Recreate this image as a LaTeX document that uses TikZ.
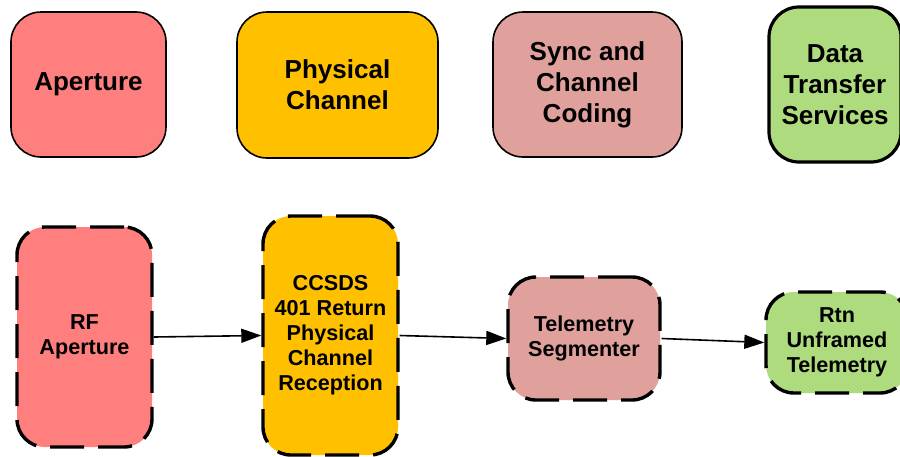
\documentclass[tikz,border=0pt]{standalone}
\usepackage{fontspec}
\setmainfont{Liberation Sans}
\usetikzlibrary{arrows.meta}
\definecolor{aperturered}{HTML}{FF7F7F}
\definecolor{physgold}{HTML}{FFC000}
\definecolor{syncrose}{HTML}{E0A19C}
\definecolor{dtsgreen}{HTML}{AEDB7E}

\begin{document}
\begin{tikzpicture}[x=0.5pt,y=-0.5pt,>={Triangle[length=10pt,width=7pt]}]
\tikzset{layer/.style={draw=black,line width=0.8pt,rounded corners=15pt,align=center,
    font=\fontsize{13}{15.5}\selectfont\bfseries,inner sep=0pt},
  func/.style={draw=black,line width=1.7pt,dash pattern=on 17pt off 7pt,rounded corners=14pt,
    align=center,font=\fontsize{10.8}{12.5}\selectfont\bfseries,inner sep=0pt},
  flow/.style={->,line width=0.8pt}}

\useasboundingbox (0,0) rectangle (900,456);

% Layer legend.
\node[layer,fill=aperturered,minimum width=77.5pt,minimum height=72.5pt] (aperture) at (88.5,84.5) {Aperture};
\node[layer,fill=physgold,minimum width=100.5pt,minimum height=73pt] (phys) at (337.5,85) {Physical\\Channel};
\node[layer,fill=syncrose,minimum width=94.5pt,minimum height=72.5pt] (sync) at (587.5,84.5) {Sync and\\Channel\\Coding};
\node[layer,fill=dtsgreen,line width=1.6pt,minimum width=66pt,minimum height=77.5pt] (dts) at (835,84.5) {Data\\Transfer\\Services};

% Return chain.
\node[func,fill=aperturered,minimum width=67.5pt,minimum height=110pt] (rf) at (84.5,337) {RF\\Aperture};
\node[func,fill=physgold,minimum width=67.5pt,minimum height=119.5pt] (ccsds) at (330.5,335.5) {CCSDS\\401 Return\\Physical\\Channel\\Reception};
\node[func,fill=syncrose,minimum width=76pt,minimum height=61.5pt] (seg) at (584,338.5) {Telemetry\\Segmenter};
\node[func,fill=dtsgreen,minimum width=71pt,minimum height=50.5pt] (rtn) at (837,342.5) {Rtn\\Unframed\\Telemetry};

\draw[flow] (rf.east) -- (ccsds.west);
\draw[flow] (ccsds.east) -- (seg.west);
\draw[flow] (seg.east) -- (rtn.west);
\end{tikzpicture}
\end{document}
